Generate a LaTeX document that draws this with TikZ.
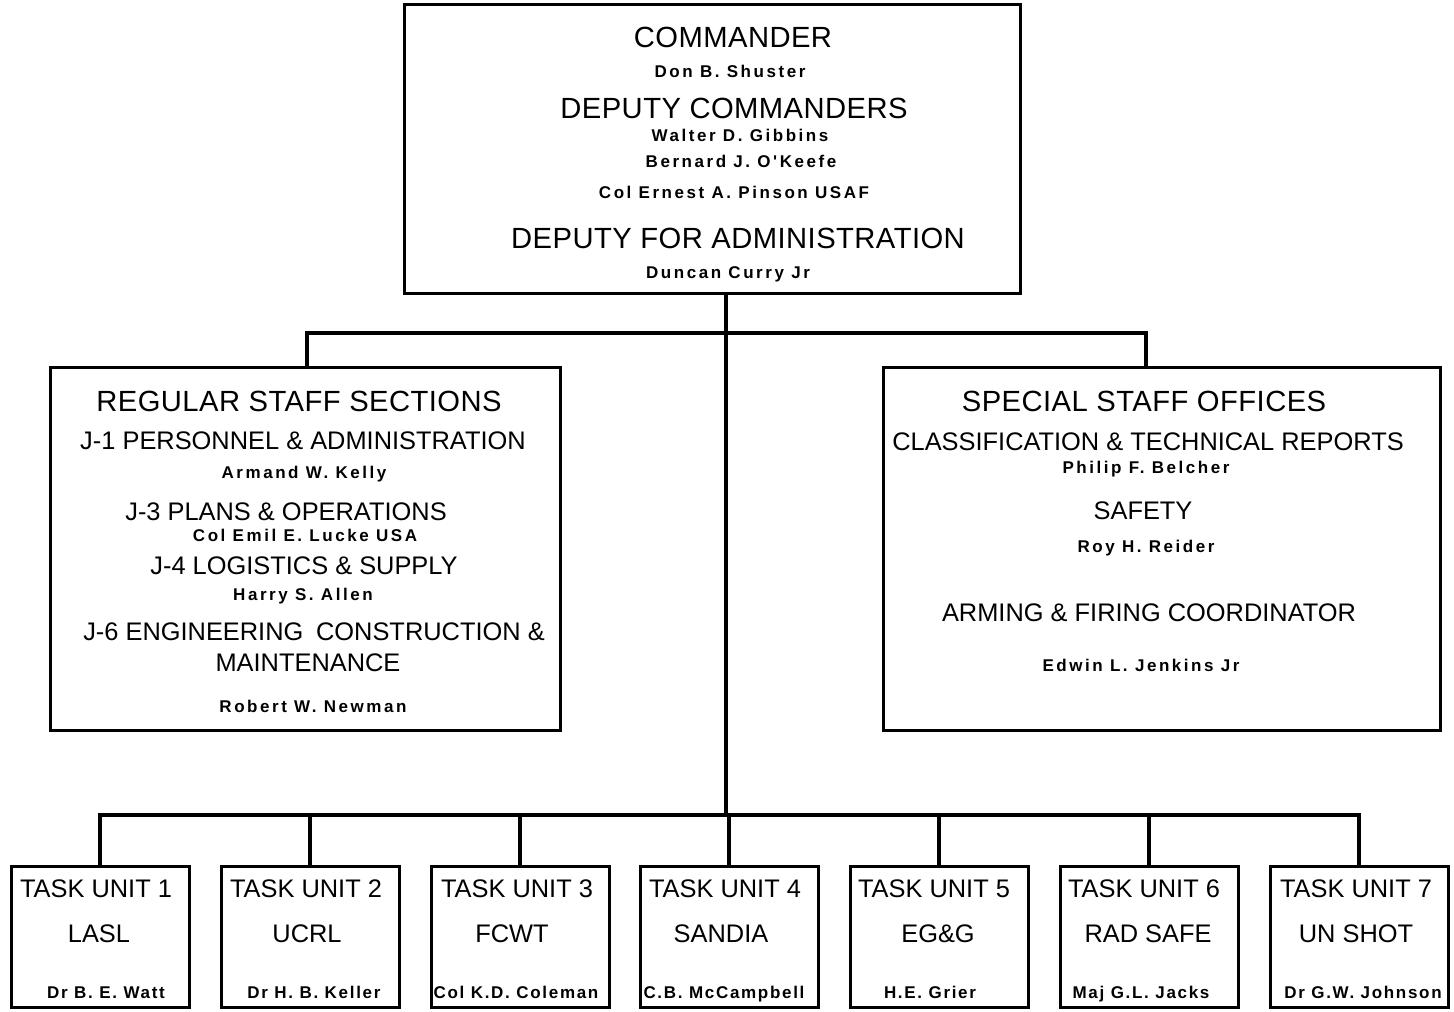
\documentclass[tikz,border=0pt]{standalone}
\usepackage{fontspec}
\setmainfont{Liberation Sans}
\newfontfamily\leroy{Liberation Sans}[LetterSpace=1.5]
\newfontfamily\leroyhead{Liberation Sans}
\newfontfamily\leroyname{Liberation Sans}[LetterSpace=15]
\newfontfamily\leroyunit{Liberation Sans}[LetterSpace=10]
\usetikzlibrary{positioning}
\tikzset{%
    box/.style={draw, line width=1.5pt, inner sep=0pt},
    wire/.style={line width=2pt},
    title/.style={font=\leroy\fontsize{14.6}{17}\selectfont, anchor=base, inner sep=0pt},
    head/.style={font=\leroyhead\fontsize{12.7}{15}\selectfont, anchor=base, inner sep=0pt},
    who/.style={font=\leroyname\bfseries\fontsize{8.5}{10}\selectfont, anchor=base, inner sep=0pt},
    unitwho/.style={font=\leroyunit\bfseries\fontsize{8.5}{10}\selectfont, anchor=base, inner sep=0pt}
}
\begin{document}
\begin{tikzpicture}[x=0.5pt,y=-0.5pt]
	\useasboundingbox (0,0) rectangle (1454,1011);
	\node[box, minimum width=308pt, minimum height=144pt] (cmd) at (712,149) {};
	\node[box, minimum width=255pt, minimum height=181.5pt] (rss) at (305,548.5) {};
	\node[box, minimum width=278.5pt, minimum height=181.5pt] (sso) at (1161.5,548.5) {};
	\node[box, minimum width=89pt, minimum height=70.5pt] (tu1) at (100,936.5) {};
	\node[box, minimum width=89pt, minimum height=70.5pt] (tu2) at (310,936.5) {};
	\node[box, minimum width=89pt, minimum height=70.5pt] (tu3) at (520,936.5) {};
	\node[box, minimum width=89pt, minimum height=70.5pt] (tu4) at (729,936.5) {};
	\node[box, minimum width=89pt, minimum height=70.5pt] (tu5) at (939,936.5) {};
	\node[box, minimum width=89pt, minimum height=70.5pt] (tu6) at (1149,936.5) {};
	\node[box, minimum width=89pt, minimum height=70.5pt] (tu7) at (1359,936.5) {};

	\coordinate (hub) at (726,333);
	\coordinate (bus) at (726,815);
	\coordinate (rl) at (307,333);
	\coordinate (rr) at (1146,333);
	\draw[wire] (cmd.south -| hub) -- (bus);
	\draw[wire] (rss.north -| rl) -- (rl) -- (rr) -- (sso.north -| rr);
	\draw[wire] (tu1.north) -- (tu1.north |- bus) -- (tu7.north |- bus) -- (tu7.north);
	\foreach \n in {2,...,6}
		\draw[wire] (tu\n.north) -- (tu\n.north |- bus);

	\node[title] (cmdr) at (733,48) {COMMANDER};
	\node[who] (cmdrN) at (730,78) {Don B. Shuster};
	\node[title] (dep) at (734,119) {DEPUTY COMMANDERS};
	\node[who] (depA) at (740,141) {Walter D. Gibbins};
	\node[who] (depB) at (741,167) {Bernard J. O'Keefe};
	\node[who] (depC) at (734,198) {Col Ernest A. Pinson USAF};
	\node[title] (adm) at (738,248) {DEPUTY FOR ADMINISTRATION};
	\node[who] (admN) at (728,278) {Duncan Curry Jr};

	\node[title] (rssT) at (299,411) {REGULAR STAFF SECTIONS};
	\node[head] (jone) at (303,449) {J-1 PERSONNEL \& ADMINISTRATION};
	\node[who] (joneN) at (304,478) {Armand W. Kelly};
	\node[head] (jthree) at (286,520) {J-3 PLANS \& OPERATIONS};
	\node[who] (jthreeN) at (305,541) {Col Emil E. Lucke USA};
	\node[head] (jfour) at (304,574) {J-4 LOGISTICS \& SUPPLY};
	\node[who] (jfourN) at (303,600) {Harry S. Allen};
	\node[head] (jsix) at (314,640) {J-6 ENGINEERING\enspace CONSTRUCTION \&};
	\node[head] (jsixB) at (308,671) {MAINTENANCE};
	\node[who] (jsixN) at (313,712) {Robert W. Newman};

	\node[title] (ssoT) at (1144,411) {SPECIAL STAFF OFFICES};
	\node[head] (cls) at (1148,450) {CLASSIFICATION \& TECHNICAL REPORTS};
	\node[who] (clsN) at (1146,473) {Philip F. Belcher};
	\node[head] (saf) at (1143,519) {SAFETY};
	\node[who] (safN) at (1146,552) {Roy H. Reider};
	\node[head] (arm) at (1149,621) {ARMING \& FIRING COORDINATOR};
	\node[who] (armN) at (1141,671) {Edwin L. Jenkins Jr};

	\node[head] (tuA) at (96,897) {TASK UNIT 1};
	\node[head] (tuAL) at (99,942) {LASL};
	\node[unitwho] (tuAN) at (106,998) {Dr B. E. Watt};
	\node[head] (tuB) at (306,897) {TASK UNIT 2};
	\node[head] (tuBL) at (307,942) {UCRL};
	\node[unitwho] (tuBN) at (314,998) {Dr H. B. Keller};
	\node[head] (tuC) at (517,897) {TASK UNIT 3};
	\node[head] (tuCL) at (512,942) {FCWT};
	\node[unitwho] (tuCN) at (516,998) {Col K.D. Coleman};
	\node[head] (tuD) at (725,897) {TASK UNIT 4};
	\node[head] (tuDL) at (721,942) {SANDIA};
	\node[unitwho] (tuDN) at (724,998) {C.B. McCampbell};
	\node[head] (tuE) at (934,897) {TASK UNIT 5};
	\node[head] (tuEL) at (938,942) {EG\&G};
	\node[unitwho] (tuEN) at (930,998) {H.E. Grier};
	\node[head] (tuF) at (1144,897) {TASK UNIT 6};
	\node[head] (tuFL) at (1148,942) {RAD SAFE};
	\node[unitwho] (tuFN) at (1141,998) {Maj G.L. Jacks};
	\node[head] (tuG) at (1356,897) {TASK UNIT 7};
	\node[head] (tuGL) at (1356,942) {UN SHOT};
	\node[unitwho] (tuGN) at (1363,998) {Dr G.W. Johnson};
\end{tikzpicture}
\end{document}
